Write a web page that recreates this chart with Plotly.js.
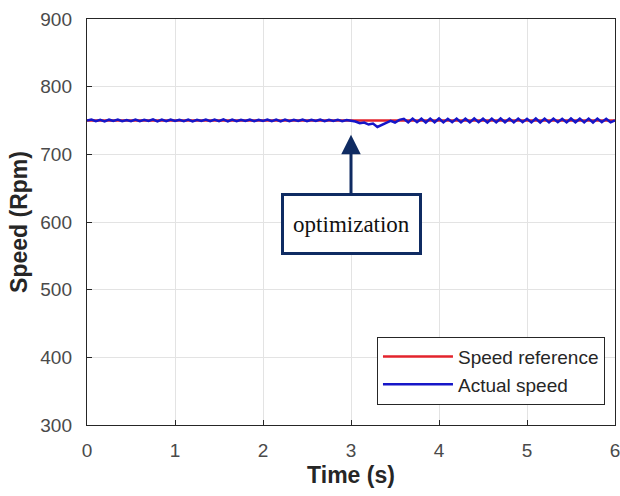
<!DOCTYPE html>
<html>
<head>
<meta charset="utf-8">
<script src="https://cdn.plot.ly/plotly-3.0.1.min.js"></script>
<style>
  html, body { margin: 0; padding: 0; background: #ffffff; }
  #chart { width: 620px; height: 496px; }
</style>
</head>
<body>
<div id="chart"></div>
<script>
// Speed reference: constant set point
const refTime = [0, 6];
const refSpeed = [750, 750];

// Measured speed, sampled every dt seconds starting at t0
const t0 = 0;
const dt = 0.05;
const actualSpeed = [
  750, 751.5, 749, 751, 748.8, 751.2, 749.2, 751.5, 749, 750.8,
  749, 751.3, 748.9, 751, 749.3, 751.6, 748.7, 751.2, 749, 751.4,
  749.2, 751, 749, 751.5, 748.8, 751.1, 749.3, 751.4, 748.9, 751.2,
  749, 751.6, 748.7, 751.3, 749.1, 751, 749.2, 751.5, 748.9, 751.1,
  749.3, 751.4, 749, 751.2, 748.8, 751.5, 749.1, 751, 749.2, 751.3,
  748.9, 751.1, 749.2, 751.4, 749, 751, 749.3, 751.2, 749, 750.6,
  749.5,
  748.5, 746, 747, 744, 745.5, 740.5, 744, 746.5, 749.5, 747, 751, 752.5,
  747.3, 752.8, 747.5, 752.6, 747, 752.9, 747.4, 753, 747.2, 752.6,
  747.5, 752.9, 747.1, 752.7, 747.3, 753, 747.5, 752.6, 747, 752.8,
  747.2, 753, 747.4, 752.7, 747.1, 752.9, 747.5, 752.6, 747.2, 753,
  747, 752.8, 747.3, 752.9, 747.5, 752.6, 747.1, 753, 747.4, 752.7,
  747.2, 752.8, 747, 752.9, 747.5, 752.6, 747.3, 750
];

const xTicks = [0, 1, 2, 3, 4, 5, 6];
const yTicks = [300, 400, 500, 600, 700, 800, 900];

// Marker for the moment the optimisation starts
const noteTime = 3.0;
const noteSpeed = 729;
const noteText = 'optimization';

const navy = '#0f2b62';
const sans = 'Liberation Sans, Arial, sans-serif';

const traces = [
  {
    x: refTime, y: refSpeed, type: 'scatter', mode: 'lines',
    name: 'Speed reference',
    line: { color: '#e3232c', width: 2.5 }
  },
  {
    x0: t0, dx: dt, y: actualSpeed, type: 'scatter', mode: 'lines',
    name: 'Actual speed',
    line: { color: '#1616c8', width: 2.5 }
  }
];

const axisCommon = {
  showline: true, linecolor: '#262626', linewidth: 1.2, mirror: true,
  showgrid: true, gridcolor: '#e3e3e3', gridwidth: 1,
  ticks: 'inside', ticklen: 5, tickcolor: '#262626',
  zeroline: false,
  ticklabeloverflow: 'allow',
  tickfont: { family: sans, size: 19, color: '#4a4a4a' }
};

const layout = {
  width: 620, height: 496,
  margin: { l: 87, r: 5, t: 19, b: 71 },
  paper_bgcolor: '#ffffff', plot_bgcolor: '#ffffff',
  showlegend: true,
  xaxis: Object.assign({}, axisCommon, {
    range: [0, 6], tickvals: xTicks, ticktext: xTicks.map(String),
    ticklabelstandoff: 8,
    title: { text: '<b>Time (s)</b>', standoff: 6,
      font: { family: sans, size: 23, color: '#262626' } }
  }),
  yaxis: Object.assign({}, axisCommon, {
    range: [300, 900], tickvals: yTicks, ticktext: yTicks.map(String),
    ticklabelstandoff: 10,
    title: { text: '<b>Speed (Rpm)</b>', standoff: 6,
      font: { family: sans, size: 23, color: '#262626' } }
  }),
  legend: {
    x: 0.981, y: 0.05, xanchor: 'right', yanchor: 'bottom',
    bgcolor: '#ffffff', bordercolor: '#262626', borderwidth: 1,
    font: { family: sans, size: 19, color: '#262626' },
    itemwidth: 70,
    tracegroupgap: 0
  },
  annotations: [
    {
      x: noteTime, y: noteSpeed, xref: 'x', yref: 'y',
      text: noteText,
      showarrow: true, arrowhead: 2, arrowsize: 1.3, arrowwidth: 3, arrowcolor: navy,
      ax: 0, ay: 89,
      font: { family: 'Liberation Serif, Times New Roman, serif', size: 23, color: '#111111' },
      bgcolor: '#ffffff', bordercolor: navy, borderwidth: 3, borderpad: 4,
      width: 127, height: 48
    }
  ]
};

Plotly.newPlot('chart', traces, layout, { displayModeBar: false, staticPlot: true });
</script>
</body>
</html>
